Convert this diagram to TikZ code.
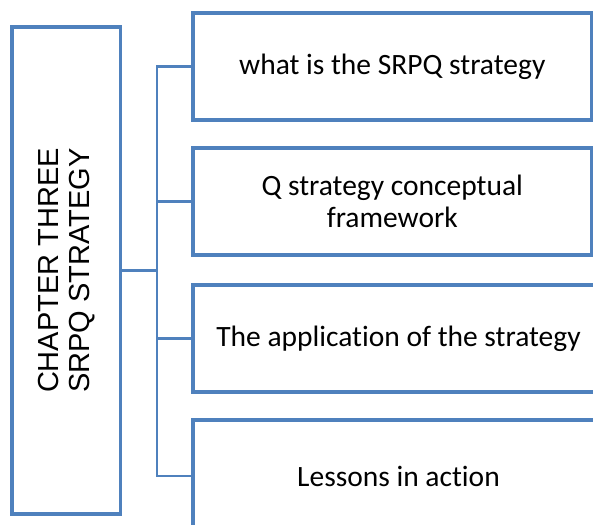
\documentclass[tikz,border=0pt]{standalone}
\usepackage{fontspec}
\setmainfont[Ligatures=NoCommon]{Carlito}
\newfontfamily\titlefont{Liberation Sans}
\usetikzlibrary{positioning}
\definecolor{boxblue}{RGB}{79,129,189}

\begin{document}
\begin{tikzpicture}[x=0.5pt,y=-0.5pt,
    chapbox/.style={draw=boxblue,line width=1.6pt,rotate=90,
      minimum width=243.5pt,minimum height=54.25pt,align=center,
      font=\titlefont\fontsize{14.5}{15.5}\selectfont},
    topicbox/.style={draw=boxblue,line width=1.6pt,minimum width=199.25pt,
      minimum height=53.5pt,align=center,font=\fontsize{14.75}{16}\selectfont},
    widebox/.style={topicbox,minimum width=205.5pt},
    link/.style={draw=boxblue,line width=1.1pt}]
    \useasboundingbox (0,0) rectangle (593,524);
    \clip (0,0) rectangle (593,524);
    % rotated node: its south side faces the topics
    \node[chapbox] (chap) at (66.25,270.5) {CHAPTER THREE\\SRPQ STRATEGY};
    \node[topicbox] (what) at (392.25,66.5) {what is the SRPQ strategy};
    \node[topicbox] (frame) at (392.25,201.5) {Q strategy conceptual\\framework};
    \node[widebox] (appl) at (398.5,338.5) {The application of the strategy};
    \node[widebox,minimum height=56pt] (less) at (398.5,476) {Lessons in action};
    \coordinate (fork) at (157,270.5);
    \draw[link] (chap.south) -- (fork);
    \draw[link] (what.west) -| (fork) |- (less.west);
    \draw[link] (fork) |- (frame.west);
    \draw[link] (fork) |- (appl.west);
    %\draw[link] (fork) |- (appl.north west);
\end{tikzpicture}
\end{document}
